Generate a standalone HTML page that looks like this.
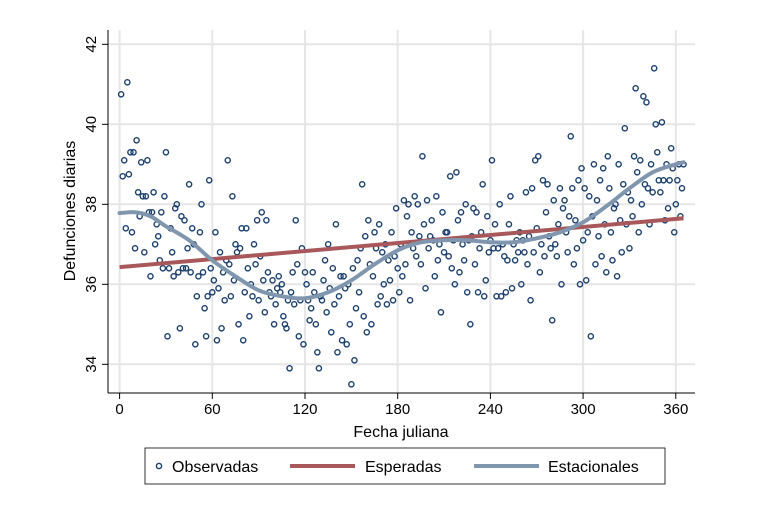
<!DOCTYPE html>
<html><head><meta charset="utf-8"><style>
body{margin:0;background:#fff;font-family:"Liberation Sans",Arial,sans-serif}
svg text{font-family:"Liberation Sans",Arial,sans-serif;fill:#000}
</style></head><body>
<svg id="chart" width="758" height="511" viewBox="0 0 758 511" xmlns="http://www.w3.org/2000/svg">
<rect width="758" height="511" fill="#fff"/>
<g id="grid"></g>
<g id="pts"></g>
<g id="lines"></g>
<g id="axes"></g>
<text x="0" y="0" font-size="16" text-anchor="middle" transform="translate(75,211) rotate(-90)">Defunciones diarias</text>
<text x="401" y="437" font-size="16" text-anchor="middle">Fecha juliana</text>
<g>
<rect x="145" y="448" width="520" height="36" fill="#fff" stroke="#000" stroke-width="0.8"/>
<g><circle cx="159" cy="466" r="2.6" fill="none" stroke="#1a3f6e" stroke-width="1.4"/><text x="172" y="472" font-size="16">Observadas</text></g>
<g><line x1="290" y1="466" x2="355" y2="466" stroke="#a8585a" stroke-width="4"/><text x="365" y="472" font-size="16">Esperadas</text></g>
<g><line x1="474" y1="466" x2="539" y2="466" stroke="#8096ae" stroke-width="4"/><text x="548" y="472" font-size="16">Estacionales</text></g>
</g>
</svg>
<script>
const xTicks=[0,60,120,180,240,300,360];
const yTicks=[34,36,38,40,42];
const observed=[
40.75,38.7,39.1,37.4,41.05,38.75,39.3,37.3,39.3,36.9,
39.6,38.3,37.7,39.05,38.2,36.8,38.2,39.1,37.8,36.2,
37.8,38.3,37.0,37.5,37.2,36.6,37.8,36.4,38.2,39.3,
34.7,36.4,37.4,36.8,36.2,37.9,38.0,36.3,34.9,37.7,
36.4,37.6,36.4,36.9,38.5,36.3,37.4,37.0,34.5,35.7,
36.2,37.3,38.0,36.3,35.4,34.7,35.7,38.6,36.4,35.8,
36.1,37.3,34.6,35.9,36.8,34.9,36.3,35.6,36.6,39.1,
36.5,35.7,38.2,36.1,37.0,36.8,35.0,36.9,37.4,34.6,
35.8,37.4,36.4,35.2,36.0,35.7,37.0,36.5,37.6,35.6,
36.7,37.8,36.1,35.3,37.6,36.3,35.8,35.7,36.1,35.0,
35.5,35.9,36.2,35.8,36.0,35.2,35.0,34.9,35.6,33.9,
35.8,36.3,35.5,37.6,36.5,34.7,35.6,36.9,34.5,36.3,
36.0,35.6,35.1,35.4,36.3,35.8,35.0,34.3,33.9,35.7,
35.6,36.1,36.6,35.3,37.0,35.9,34.8,36.4,35.5,37.5,
34.3,35.7,36.2,34.6,36.2,35.9,34.5,36.0,35.0,33.5,
36.4,34.1,35.4,36.6,35.8,36.9,38.5,35.2,37.2,34.8,
37.6,36.5,35.0,36.2,37.3,36.9,35.5,37.5,35.7,36.8,
36.0,37.0,35.5,36.6,36.1,37.3,35.6,36.7,37.9,36.4,
35.8,37.0,36.2,38.1,36.5,37.7,38.0,35.6,37.3,36.9,
38.2,36.7,38.0,37.2,36.5,39.2,37.5,35.9,38.1,36.9,
37.2,37.6,37.1,36.2,38.2,36.6,37.0,35.3,37.8,36.8,
37.3,37.3,36.7,38.7,36.4,37.1,36.0,38.8,37.6,36.3,
37.8,37.0,36.6,38.0,35.8,37.1,35.0,37.2,37.9,36.5,
37.8,35.8,36.9,37.3,38.5,35.7,36.1,37.7,36.8,37.1,
39.1,36.9,37.5,35.7,36.9,38.0,35.7,37.0,36.7,35.8,
36.6,37.5,38.2,35.9,37.0,36.6,37.1,36.8,37.3,36.0,
37.1,36.8,38.3,36.5,37.2,35.6,38.4,36.8,39.1,37.4,
39.2,36.3,37.0,38.6,36.7,37.8,38.5,37.2,36.9,35.1,
38.1,37.0,36.7,37.5,38.4,36.0,37.9,38.1,37.3,36.8,
37.7,39.7,38.4,36.5,37.6,36.9,38.6,36.0,38.9,37.1,
38.4,36.1,37.3,38.2,34.7,37.7,39.0,36.5,38.1,37.2,
38.6,36.7,38.9,37.5,36.3,39.2,38.4,37.3,36.6,37.9,
38.0,36.2,39.0,37.6,36.8,38.5,39.9,37.5,38.3,36.9,
38.1,37.7,39.2,40.9,38.8,37.3,39.1,38.0,40.7,38.5,
40.55,38.4,37.5,39.0,38.3,41.4,40.0,39.3,38.6,38.3,
40.05,38.6,37.6,39.0,37.9,38.6,39.4,38.9,37.3,38.0,
38.6,39.0,37.7,38.4,39.0];
const expectedDays=[0,365];
const expectedVals=[36.43,37.65];
const seasonDays=[0,10,20,30,45,60,75,90,105,120,135,150,165,180,195,210,225,240,255,270,285,300,315,330,345,360,365];
const seasonVals=[37.78,37.8,37.7,37.45,37.1,36.6,36.2,35.85,35.7,35.65,35.8,36.1,36.5,36.85,37.05,37.1,37.1,37.05,37.05,37.15,37.3,37.55,37.95,38.4,38.8,39.0,39.05];

const NS='http://www.w3.org/2000/svg';
const X=d=>119.6+d*(675.8-119.6)/360;
const Y=v=>364.3-(v-34)*40;
const L=108,R=695,T=30,B=393;
function mk(tag,attrs,parent){const e=document.createElementNS(NS,tag);for(const k in attrs)e.setAttribute(k,attrs[k]);parent.appendChild(e);return e;}
const grid=document.getElementById('grid'),axes=document.getElementById('axes'),pts=document.getElementById('pts'),lines=document.getElementById('lines');
xTicks.forEach(t=>{
  const g=mk('line',{x1:X(t),x2:X(t),y1:T,y2:B,stroke:'#e6e6e6','stroke-width':2},grid);
  
  
  mk('line',{x1:X(t),x2:X(t),y1:B,y2:B+6,stroke:'#000','stroke-width':1},axes);
  const tx=mk('text',{x:X(t),y:B+21,'font-size':15,'text-anchor':'middle'},axes);tx.textContent=t;
  
  
});
yTicks.forEach(t=>{
  const g=mk('line',{x1:L,x2:R,y1:Y(t),y2:Y(t),stroke:'#e6e6e6','stroke-width':2},grid);
  
  
  mk('line',{x1:L-6,x2:L,y1:Y(t),y2:Y(t),stroke:'#000','stroke-width':1},axes);
  const tx=mk('text',{x:0,y:0,'font-size':15,'text-anchor':'middle',transform:`translate(${L-12},${Y(t)}) rotate(-90)`},axes);tx.textContent=t;
  
  
});
mk('line',{x1:L,x2:L,y1:T,y2:B,stroke:'#000','stroke-width':1},axes);
mk('line',{x1:L,x2:R,y1:B,y2:B,stroke:'#000','stroke-width':1},axes);
observed.forEach((v,i)=>{
  const c=mk('circle',{cx:X(i+1),cy:Y(v),r:2.6,fill:'none',stroke:'#1a3f6e','stroke-width':1.4},pts);
  
  
});
const ex=mk('polyline',{points:expectedDays.map((d,i)=>X(d)+','+Y(expectedVals[i])).join(' '),fill:'none',stroke:'#a8585a','stroke-width':4},lines);


// Catmull-Rom smoothing through seasonal points
const P=seasonDays.map((d,i)=>[X(d),Y(seasonVals[i])]);
let dstr='M'+P[0][0]+','+P[0][1];
for(let i=0;i<P.length-1;i++){
  const p0=P[Math.max(0,i-1)],p1=P[i],p2=P[i+1],p3=P[Math.min(P.length-1,i+2)];
  const c1=[p1[0]+(p2[0]-p0[0])/6,p1[1]+(p2[1]-p0[1])/6],c2=[p2[0]-(p3[0]-p1[0])/6,p2[1]-(p3[1]-p1[1])/6];
  dstr+=` C${c1[0]},${c1[1]} ${c2[0]},${c2[1]} ${p2[0]},${p2[1]}`;
}
const se=mk('path',{d:dstr,fill:'none',stroke:'#8096ae','stroke-width':4,'stroke-linecap':'round'},lines);


</script>
</body></html>
